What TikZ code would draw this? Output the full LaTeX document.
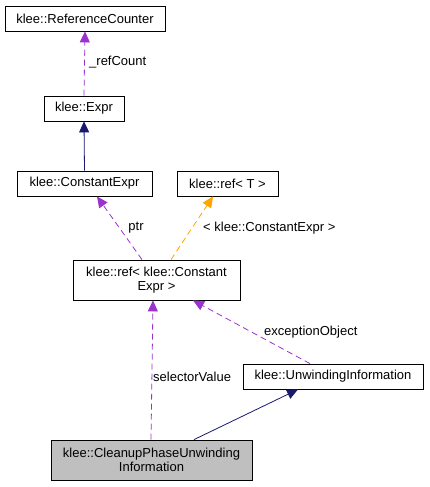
\documentclass[tikz,border=0pt]{standalone}
\usepackage{fontspec}
\setmainfont{Liberation Sans}
\usetikzlibrary{arrows.meta}
\definecolor{dxpurple}{HTML}{9A32CD}
\definecolor{dxnavy}{HTML}{191970}
\definecolor{dxorange}{HTML}{FFA500}
\tikzset{
    cls/.style={draw=black, line width=0.8pt, fill=white, inner sep=0pt,
        minimum height=25pt, align=center, font=\fontsize{13}{14.5}\selectfont},
    usage/.style={draw=dxpurple, line width=0.8pt, dash pattern=on 6pt off 4pt,
        -{Triangle[length=11pt,width=10pt]}},
    tmpl/.style={usage, draw=dxorange, -{Triangle[length=11pt,width=10pt,fill=dxorange]}},
    inherit/.style={draw=dxnavy, line width=0.8pt, -{Triangle[length=11pt,width=10pt]}},
    lbl/.style={font=\fontsize{13}{14.5}\selectfont, inner sep=0pt}
}

\begin{document}
\begin{tikzpicture}[x=1pt, y=-1pt]
            \useasboundingbox (0,0) rectangle (429,487);
            % classes
            \node[cls, minimum width=160pt] (refcnt) at (85,18.5) {klee::ReferenceCounter};
            \node[cls, minimum width=80pt] (expr) at (84,108.5) {klee::Expr};
            \node[cls, minimum width=135pt] (cexpr) at (84.5,183.5) {klee::ConstantExpr};
            \node[cls, minimum width=101pt] (reft) at (227.5,183.5) {klee::ref< T >};
            \node[cls, minimum width=167pt, minimum height=40pt] (refce) at (156.5,280) {klee::ref< klee::Constant\\Expr >};
            \node[cls, minimum width=180pt] (unwind) at (333,376.5) {klee::UnwindingInformation};
            \node[cls, minimum width=201pt, minimum height=40pt, fill=black!25] (cleanup) at (151.5,460) {klee::CleanupPhaseUnwinding\\Information};

            % edges
            \draw[usage] (expr.north) -- (refcnt.south);
            \draw[inherit] (cexpr.north) -- (expr.south);
            \draw[usage] ([xshift=-14.5pt]refce.north) -- ([xshift=12.5pt]cexpr.south);
            \draw[tmpl] ([xshift=14.5pt]refce.north) -- ([xshift=-14.5pt]reft.south);
            \draw[usage] ([xshift=-23pt]unwind.north) -- ([xshift=36.5pt]refce.south);
            \draw[usage] ([xshift=-0.5pt]cleanup.north) -- ([xshift=-3.5pt]refce.south);
            \draw[inherit] ([xshift=42.5pt]cleanup.north) -- ([xshift=-35pt]unwind.south);

            % labels
            \node[lbl, anchor=west] (l1) at (89,62) {\_refCount};
            \node[lbl] (l2) at (136,228) {ptr};
            \node[lbl, anchor=west] (l3) at (203,228) {< klee::ConstantExpr >};
            \node[lbl, anchor=west] (l4) at (264,332) {exceptionObject};
            \node[lbl, anchor=west] (l5) at (153,377) {selectorValue};
        \end{tikzpicture}
\end{document}
